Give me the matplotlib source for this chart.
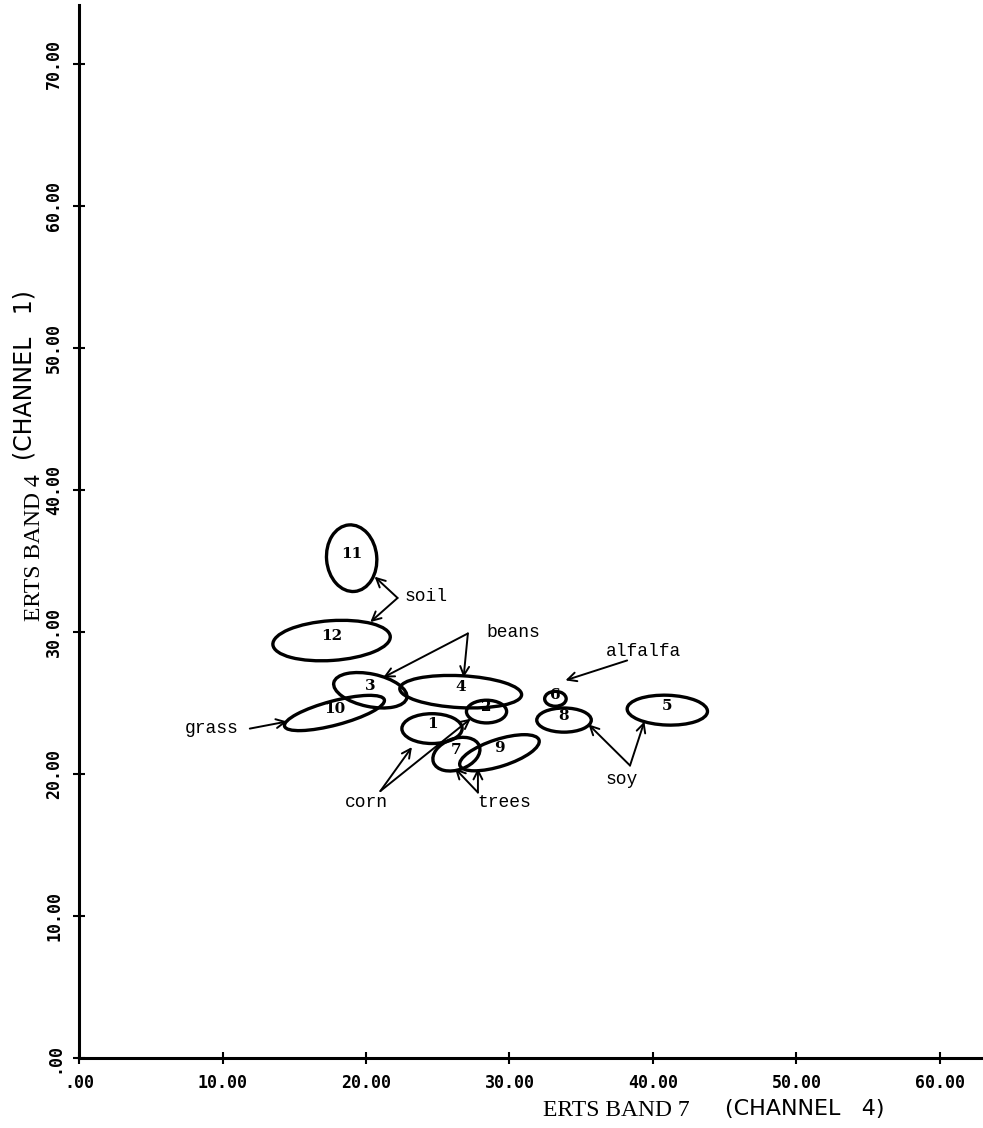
import matplotlib
matplotlib.use("Agg")
import matplotlib.pyplot as plt
from matplotlib.patches import Ellipse

# cluster ellipses (ERTS band 7 vs band 4)
cluster_ids = ["1", "2", "3", "4", "5", "6", "7", "8", "9", "10", "11", "12"]
center_x = [24.6, 28.4, 20.3, 26.6, 41.0, 33.2, 26.3, 33.8, 29.3, 17.8, 19.0, 17.6]
center_y = [23.2, 24.4, 25.9, 25.8, 24.5, 25.3, 21.4, 23.8, 21.5, 24.3, 35.2, 29.4]
widths = [4.2, 2.8, 5.2, 8.5, 5.6, 1.5, 3.4, 3.8, 5.8, 7.2, 3.5, 8.2]
heights = [2.1, 1.6, 2.3, 2.25, 2.1, 1.05, 2.2, 1.7, 1.9, 1.7, 4.7, 2.8]
angles = [0, 0, -12, -3, -2, 0, 20, 0, 18, 15, 5, 4]

# class annotations: label, text position, arrow vertex, arrow targets
class_names = ["soil", "beans", "alfalfa", "grass", "corn", "trees", "soy"]
text_align = ["left", "left", "left", "left", "center", "center", "center"]
text_x = [22.7, 28.4, 36.7, 7.4, 20.0, 29.6, 37.8]
text_y = [32.5, 30.0, 28.6, 23.2, 18.0, 18.0, 19.6]
vertex_x = [22.2, 27.1, 38.2, 11.9, 21.0, 27.8, 38.4]
vertex_y = [32.4, 29.9, 28.0, 23.2, 18.8, 18.7, 20.6]
targets = [
    [(20.6, 33.9), (20.3, 30.7)],
    [(21.2, 26.8), (26.8, 26.8)],
    [(33.9, 26.6)],
    [(14.5, 23.7)],
    [(23.2, 21.9), (27.3, 23.9)],
    [(26.2, 20.4), (27.8, 20.4)],
    [(35.5, 23.5), (39.4, 23.7)],
]

x_ticks = [0, 10, 20, 30, 40, 50, 60]
y_ticks = [0, 10, 20, 30, 40, 50, 60, 70]
x_tick_labels = [".00", "10.00", "20.00", "30.00", "40.00", "50.00", "60.00"]
y_tick_labels = [".00", "10.00", "20.00", "30.00", "40.00", "50.00", "60.00", "70.00"]

fig = plt.figure(figsize=(9.83, 11.28), dpi=100)
ax = fig.add_axes([0.0804, 0.062, 0.9196, 0.9335])
ax.set_xlim(0, 63)
ax.set_ylim(0, 74.15)

for s in ["top", "right"]:
    ax.spines[s].set_visible(False)
for s in ["left", "bottom"]:
    ax.spines[s].set_linewidth(2.2)

ax.set_xticks(x_ticks)
ax.set_xticklabels(x_tick_labels, family="DejaVu Sans Mono", weight="bold", fontsize=12)
ax.set_yticks(y_ticks)
ax.set_yticklabels(y_tick_labels, family="DejaVu Sans Mono", weight="bold", fontsize=12,
                   rotation=90, va="center")
ax.tick_params(direction="inout", length=9, width=1.5, pad=7)

for i in range(len(cluster_ids)):
    e = Ellipse((center_x[i], center_y[i]), widths[i], heights[i], angle=angles[i],
                fill=False, edgecolor="black", linewidth=2.4)
    ax.add_patch(e)
    ax.text(center_x[i], center_y[i] + 0.3, cluster_ids[i], ha="center", va="center",
            family="DejaVu Serif", weight="bold", fontsize=11)

for i in range(len(class_names)):
    ax.text(text_x[i], text_y[i], class_names[i], ha=text_align[i], va="center",
            family="Liberation Mono", fontsize=13)
    for tx, ty in targets[i]:
        ax.annotate("", xy=(tx, ty), xytext=(vertex_x[i], vertex_y[i]),
                    arrowprops=dict(arrowstyle="->", color="black", lw=1.4,
                                    mutation_scale=16, shrinkA=0, shrinkB=0))

# axis titles
fig.text(616 / 983, 1 - 1111 / 1128, "ERTS BAND 7", ha="center", va="center",
         family="Liberation Serif", fontsize=17)
fig.text(805 / 983, 1 - 1109 / 1128, "(CHANNEL   4)", ha="center", va="center",
         family="DejaVu Sans", fontsize=16)
fig.text(35 / 983, 1 - 548 / 1128, "ERTS BAND 4", ha="center", va="center",
         family="Liberation Serif", fontsize=17, rotation=90)
fig.text(25 / 983, 1 - 375 / 1128, "(CHANNEL   1)", ha="center", va="center",
         family="DejaVu Sans", fontsize=17, rotation=90)

fig.savefig("out.png", dpi=100)
